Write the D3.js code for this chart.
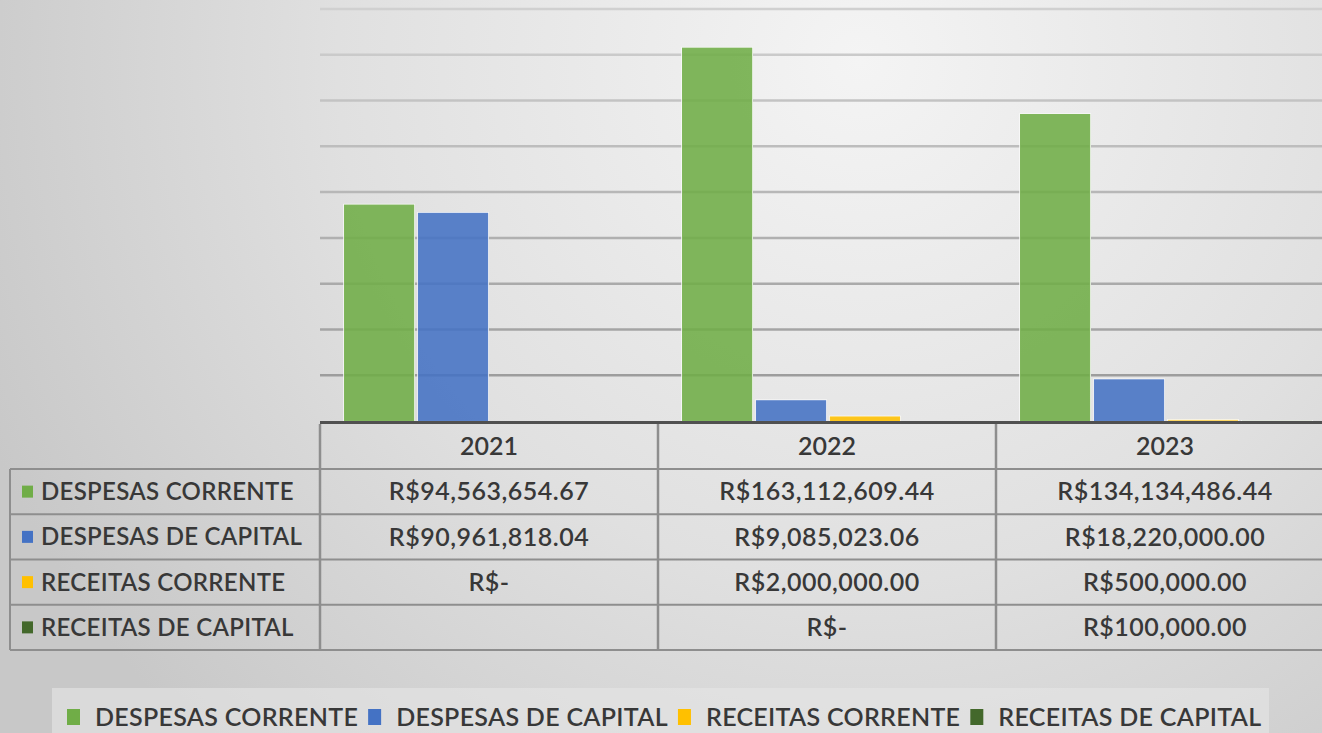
<!DOCTYPE html>
<html>
<head>
<meta charset="utf-8">
<script src="https://cdn.jsdelivr.net/npm/d3@7"></script>
<style>
  html, body { margin: 0; padding: 0; overflow: hidden; }
  svg { display: block; font-family: Lato, "Open Sans", sans-serif; }
</style>
</head>
<body>
<svg width="1322" height="733"></svg>
<script>
// data
var years = ["2021", "2022", "2023"];
var seriesNames = ["DESPESAS CORRENTE", "DESPESAS DE CAPITAL", "RECEITAS CORRENTE", "RECEITAS DE CAPITAL"];
var seriesColors = ["#70ad47", "#4472c4", "#ffc000", "#43682b"];
var despesasCorrente = [94563654.67, 163112609.44, 134134486.44];
var despesasCapital = [90961818.04, 9085023.06, 18220000.00];
var receitasCorrente = [0, 2000000.00, 500000.00];
var receitasCapital = [null, 0, 100000.00];
var gridTicks = [20e6, 40e6, 60e6, 80e6, 100e6, 120e6, 140e6, 160e6, 180e6];

var seriesValues = [despesasCorrente, despesasCapital, receitasCorrente, receitasCapital];

var svg = d3.select("svg");
var width = +svg.attr("width");
var height = +svg.attr("height");
var textColor = "#383838";

// background
var defs = svg.append("defs");
var bg = defs.append("radialGradient")
    .attr("id", "bg")
    .attr("gradientUnits", "userSpaceOnUse")
    .attr("cx", 860).attr("cy", 60).attr("r", 950);
bg.append("stop").attr("offset", "0%").attr("stop-color", "#f4f4f4");
bg.append("stop").attr("offset", "55%").attr("stop-color", "#e0e0e0");
bg.append("stop").attr("offset", "100%").attr("stop-color", "#c8c8c8");

svg.append("rect")
    .attr("width", width).attr("height", height)
    .attr("fill", "url(#bg)");

// scales
var x = d3.scaleBand().domain(years).range([320, 1334]);
var xSub = d3.scaleBand().domain(seriesNames).range([24, 316]).paddingInner(0.05);
var y = d3.scaleLinear().domain([0, 180e6]).range([421, 9]);
var gridColor = d3.scaleLinear().domain([0, 180e6]).range(["#979797", "#d0d0d0"]);

// gridlines
svg.append("g")
    .selectAll("line")
    .data(gridTicks)
    .enter().append("line")
    .attr("x1", 320).attr("x2", width)
    .attr("y1", d => y(d)).attr("y2", d => y(d))
    .attr("stroke", d => gridColor(d))
    .attr("stroke-width", 2.5);

// bars
var rows = years.map(function (yr, i) {
    return { year: yr, values: seriesNames.map(function (s, j) {
        return { key: s, color: seriesColors[j], value: seriesValues[j][i] };
    }) };
});

var group = svg.append("g")
    .selectAll("g")
    .data(rows)
    .enter().append("g")
    .attr("transform", d => "translate(" + x(d.year) + ",0)");

// zero / empty values draw nothing
group.selectAll("rect")
    .data(d => d.values.filter(v => v.value > 0))
    .enter().append("rect")
    .attr("x", d => xSub(d.key))
    .attr("width", xSub.bandwidth())
    .attr("y", d => y(d.value))
    .attr("height", d => y(0) - y(d.value))
    .attr("fill", d => d.color)
    .attr("fill-opacity", d => d.value > 1e6 ? 0.88 : 0.6)
    .attr("stroke", "#fafafa")
    .attr("stroke-width", 1.5)
    .style("paint-order", "stroke");

// category axis line
svg.append("line")
    .attr("x1", 320).attr("x2", width)
    .attr("y1", 422.5).attr("y2", 422.5)
    .attr("stroke", "#505050")
    .attr("stroke-width", 3);

// data table
var rowY = d3.scaleBand().domain(seriesNames).range([469, 650]);
var tableColor = "#8e8e8e";
var table = svg.append("g");

function money(v) {
    if (v === null) return "";
    if (v === 0) return "R$-";
    return "R$" + d3.format(",.2f")(v);
}

// horizontal lines
table.append("line")
    .attr("x1", 10).attr("x2", width)
    .attr("y1", 469).attr("y2", 469)
    .attr("stroke", tableColor).attr("stroke-width", 2);
table.selectAll(".hline")
    .data(seriesNames)
    .enter().append("line")
    .attr("class", "hline")
    .attr("x1", 10).attr("x2", width)
    .attr("y1", d => rowY(d) + rowY.bandwidth()).attr("y2", d => rowY(d) + rowY.bandwidth())
    .attr("stroke", tableColor).attr("stroke-width", 2);

// vertical lines
table.append("line")
    .attr("x1", 10).attr("x2", 10)
    .attr("y1", 469).attr("y2", 650)
    .attr("stroke", tableColor).attr("stroke-width", 2);
table.selectAll(".vline")
    .data(years)
    .enter().append("line")
    .attr("class", "vline")
    .attr("x1", d => x(d)).attr("x2", d => x(d))
    .attr("y1", 424).attr("y2", 650)
    .attr("stroke", tableColor).attr("stroke-width", 2.5);

// header
table.selectAll(".year")
    .data(years)
    .enter().append("text")
    .attr("class", "year")
    .attr("x", d => x(d) + x.bandwidth() / 2)
    .attr("y", 446)
    .attr("dy", "0.35em")
    .attr("text-anchor", "middle")
    .attr("fill", textColor)
    .style("font-size", "25px")
    .style("font-weight", 600)
    .text(d => d);

// row labels
var rowLabel = table.selectAll(".rowlabel")
    .data(seriesNames)
    .enter().append("g")
    .attr("class", "rowlabel")
    .attr("transform", d => "translate(0," + (rowY(d) + rowY.bandwidth() / 2) + ")");

rowLabel.append("rect")
    .attr("x", 22).attr("y", -6)
    .attr("width", 11).attr("height", 12)
    .attr("fill", (d, i) => seriesColors[i]);

rowLabel.append("text")
    .attr("x", 41)
    .attr("dy", "0.35em")
    .attr("fill", textColor)
    .style("font-size", "24px")
    .style("font-weight", 600)
    .style("letter-spacing", "0.3px")
    .text(d => d);

// cell values
seriesNames.forEach(function (s, j) {
    table.append("g")
        .selectAll("text")
        .data(years)
        .enter().append("text")
        .attr("x", d => x(d) + x.bandwidth() / 2)
        .attr("y", rowY(s) + rowY.bandwidth() / 2)
        .attr("dy", "0.35em")
        .attr("text-anchor", "middle")
        .attr("fill", textColor)
        .style("font-size", "25px")
        .style("font-weight", 600)
        .style("letter-spacing", "0.5px")
        .text((d, i) => money(seriesValues[j][i]));
});

// legend
var legend = svg.append("g");
legend.append("rect")
    .attr("x", 52).attr("y", 688)
    .attr("width", 1217).attr("height", 60)
    .attr("fill", "#e6e6e6")
    .attr("fill-opacity", 0.6);

var lx = 67;
seriesNames.forEach(function (s, i) {
    var item = legend.append("g").attr("transform", "translate(" + lx + ",717)");
    item.append("rect")
        .attr("x", 0).attr("y", -8)
        .attr("width", 13).attr("height", 16)
        .attr("fill", seriesColors[i]);
    var t = item.append("text")
        .attr("x", 28)
        .attr("dy", "0.35em")
        .attr("fill", textColor)
        .style("font-size", "25px")
        .style("font-weight", 600)
        .style("letter-spacing", "0.3px")
        .text(s);
    lx += 28 + t.node().getComputedTextLength() + 10;
});
</script>
</body>
</html>
